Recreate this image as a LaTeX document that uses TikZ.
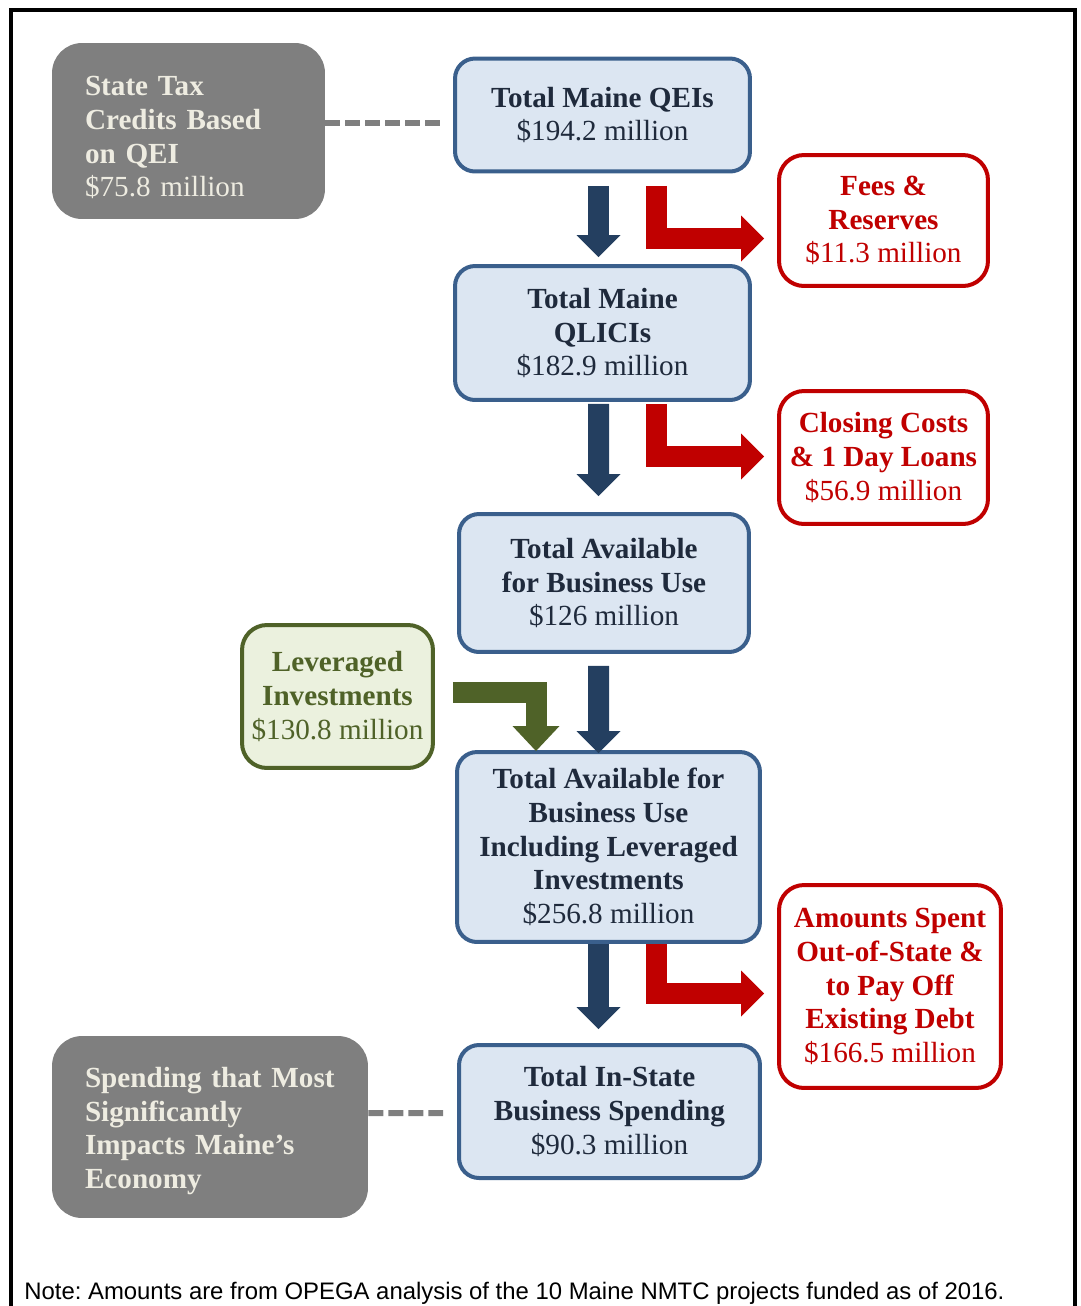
\documentclass[tikz,border=0pt]{standalone}
\usepackage{fontspec}
\setmainfont{Liberation Serif}
\newfontfamily\notefont{Liberation Sans}
\usetikzlibrary{arrows.meta}
\frenchspacing

\definecolor{boxblue}{HTML}{DCE6F2}
\definecolor{lineblue}{HTML}{3A5F8C}
\definecolor{textblue}{HTML}{1F2A3C}
\definecolor{navy}{HTML}{243F60}
\definecolor{darkred}{HTML}{C00000}
\definecolor{boxgreen}{HTML}{EBF1DE}
\definecolor{olive}{HTML}{4F6228}
\definecolor{boxgray}{HTML}{7F7F7F}
\definecolor{graytext}{HTML}{EEECE1}

\tikzset{
  boxfont/.style={font=\fontsize{16.6}{19.2}\selectfont},
  flowbox/.style={boxfont, line width=0.08cm, align=center, inner sep=0pt},
  bluebox/.style={flowbox, rounded corners=0.4cm, draw=lineblue, fill=boxblue, text=textblue},
  redbox/.style={flowbox, rounded corners=0.5cm, draw=darkred, fill=white, text=darkred},
  greenbox/.style={flowbox, rounded corners=0.5cm, draw=olive, fill=boxgreen, text=olive},
  graybox/.style={boxfont, rounded corners=0.6cm, fill=boxgray, text=graytext, align=left,
    inner xsep=0.66cm, inner ysep=0pt},
  fatarrow/.style={line width=0.42cm, line join=miter, -{Triangle[length=0.44cm, width=0.88cm, line width=0pt]}},
  downarrow/.style={fatarrow, navy},
  outarrow/.style={fatarrow, darkred, -{Triangle[length=0.46cm, width=0.92cm, line width=0pt]}},
  inarrow/.style={fatarrow, olive, -{Triangle[length=0.5cm, width=0.94cm, line width=0pt]}},
  link/.style={boxgray, line width=0.12cm, dash pattern=on 0.3cm off 0.1cm}
}

\begin{document}
\begin{tikzpicture}[x=0.02cm, y=-0.02cm]
  \useasboundingbox (0,0) rectangle (1081,1306);
  \draw [line width=0.08cm, line join=miter] (11,1306) -- (11,10) -- (1075,10) -- (1075,1306);

  % main column
  \node [bluebox, minimum width=5.9cm, minimum height=2.26cm] (qei) at (602.5,115)
    {\textbf{Total Maine QEIs}\\\$194.2 million};
  \node [bluebox, minimum width=5.9cm, minimum height=2.68cm] (qlici) at (602.5,333)
    {\textbf{Total Maine}\\\textbf{QLICIs}\\\$182.9 million};
  \node [bluebox, minimum width=5.8cm, minimum height=2.76cm] (avail) at (604,583)
    {\textbf{Total Available}\\\textbf{for Business Use}\\\$126 million};
  \node [bluebox, minimum width=6.06cm, minimum height=3.8cm] (incl) at (608.5,847)
    {\textbf{Total Available for}\\\textbf{Business Use}\\\textbf{Including Leveraged}\\\textbf{Investments}\\\$256.8 million};
  \node [bluebox, minimum width=6.02cm, minimum height=2.66cm] (instate) at (609.5,1111.5)
    {\textbf{Total In-State}\\\textbf{Business Spending}\\\$90.3 million};

  % side boxes
  \node [redbox, minimum width=4.18cm, minimum height=2.62cm] (fees) at (883.5,220.5)
    {\textbf{Fees \&}\\\textbf{Reserves}\\\$11.3 million};
  \node [redbox, minimum width=4.18cm, minimum height=2.66cm] (closing) at (883.5,457.5)
    {\textbf{Closing Costs}\\\textbf{\& 1 Day Loans}\\\$56.9 million};
  \node [redbox, minimum width=4.44cm, minimum height=4.06cm] (amounts) at (890,986.5)
    {\textbf{Amounts Spent}\\\textbf{Out-of-State \&}\\\textbf{to Pay Off}\\\textbf{Existing Debt}\\\$166.5 million};
  \node [greenbox, minimum width=3.82cm, minimum height=2.86cm] (lev) at (337.5,696.5)
    {\textbf{Leveraged}\\\textbf{Investments}\\\$130.8 million};
  \node [graybox, text width=4.14cm, minimum width=5.46cm, minimum height=3.52cm] (tax) at (188.5,131)
    {\rule{0pt}{0.65cm}\textbf{State Tax}\\\textbf{Credits Based}\\\textbf{on QEI}\\\$75.8 million};
  \node [graybox, text width=5.0cm, minimum width=6.32cm, minimum height=3.64cm] (spend) at (210,1127)
    {\rule{0pt}{0.57cm}\textbf{Spending that Most}\\\textbf{Significantly}\\\textbf{Impacts Maine’s}\\\textbf{Economy}};

  % arrows
  \draw [downarrow] ([shift={(-4,12.5)}]qei.south) -- ([shift={(-4,-7)}]qlici.north);
  \draw [downarrow] ([shift={(-4,2)}]qlici.south) -- ([shift={(-5.5,-16)}]avail.north);
  \draw [downarrow] ([shift={(-5.5,12)}]avail.south) -- ([shift={(-10,3)}]incl.north);
  \draw [downarrow] ([shift={(-10,0)}]incl.south) -- ([shift={(-11,-14)}]instate.north);

  \draw [outarrow] ([shift={(53.5,12.5)}]qei.south) |- ([shift={(-13,18)}]fees.west);
  \draw [outarrow] ([shift={(53.5,2)}]qlici.south) |- ([shift={(-13,-1)}]closing.west);
  \draw [outarrow] ([shift={(47.5,0)}]incl.south) |- ([shift={(-13,7)}]amounts.west);
  \draw [inarrow] ([shift={(18,-4.5)}]lev.east) -| ([shift={(-72.5,1)}]incl.north);

  \draw [link] ([yshift=8*0.02cm]tax.east) -- ([xshift=-10*0.02cm, yshift=-8*0.02cm]qei.west);
  \draw [link] ([yshift=14*0.02cm]spend.east) -- ([xshift=-14*0.02cm, yshift=-1.5*0.02cm]instate.west);

  \node [anchor=base west, inner sep=0pt, font=\notefont\fontsize{13.6}{16}\selectfont] (note) at (24,1299)
    {Note: Amounts are from OPEGA analysis of the 10 Maine NMTC projects funded as of 2016.};
\end{tikzpicture}
\end{document}
